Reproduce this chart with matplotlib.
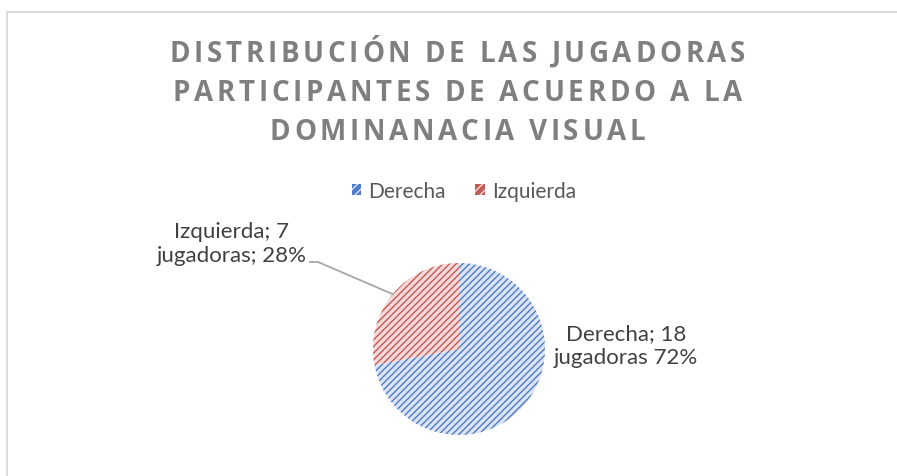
import matplotlib
matplotlib.use("Agg")
import matplotlib.pyplot as plt
from matplotlib.patches import Patch
from matplotlib.lines import Line2D
import numpy as np

# data
categorias = ["Derecha", "Izquierda"]
jugadoras = [18, 7]
porcentajes = [72, 28]
etiquetas = ["Derecha; 18\njugadoras 72%", "Izquierda; 7\njugadoras; 28%"]
titulo = ["DISTRIBUCIÓN DE LAS JUGADORAS",
          "PARTICIPANTES DE ACUERDO A LA",
          "DOMINANACIA VISUAL"]

caras = ["#dbe4f4", "#f5dada"]
lineas = ["#4f7bc8", "#c65a57"]

plt.rcParams["font.family"] = ["Lato", "DejaVu Sans"]
plt.rcParams["hatch.linewidth"] = 1.0

W, H = 897, 477
fig = plt.figure(figsize=(W / 100, H / 100), dpi=100)
ax = fig.add_axes([0, 0, 1, 1])

# pie in pixel coordinates (y up)
cx, cy, R = 459, H - 350, 86
wedges, _ = ax.pie(jugadoras, startangle=90, counterclock=False,
                   center=(cx, cy), radius=R, explode=[0, 0.06],
                   colors=caras, wedgeprops=dict(linewidth=0))
for w, c in zip(wedges, lineas):
    w.set_hatch("/////")
    w.set_edgecolor(c)
ax.set_xlim(0, W)
ax.set_ylim(0, H)
ax.set_aspect("auto")
ax.axis("off")

# chart border (top and left visible)
fig.add_artist(Line2D([7, 7, W], [0, H - 13, H - 13], transform=None,
                      color="#d9d9d9", lw=1.3))

# title with wide letter spacing, drawn char by char
renderer = fig.canvas.get_renderer()
track = 3.7
for k, linea in enumerate(titulo):
    y = H - (54 + 39.5 * k)
    objs = []
    for ch in linea:
        t = ax.text(0, y, ch, fontsize=20, fontweight="bold", color="#7f7f7f",
                    family=["Open Sans", "DejaVu Sans"], va="center", ha="left")
        objs.append(t)
    anchos = [t.get_window_extent(renderer).width if ch != " " else 7
              for t, ch in zip(objs, linea)]
    total = sum(anchos) + track * (len(linea) - 1)
    x = W / 2 + 9 - total / 2
    for t, a in zip(objs, anchos):
        t.set_x(x)
        x += a + track

# legend
handles = [Patch(facecolor=e, edgecolor=f, hatch="////", lw=0)
           for f, e in zip(caras, lineas)]
leg = fig.legend(handles, categorias, loc="center", bbox_to_anchor=(464 / W, 1 - 192 / H),
                 ncol=2, frameon=False, fontsize=15, handlelength=0.45, handleheight=0.45,
                 handletextpad=0.35, columnspacing=1.4)
for txt in leg.get_texts():
    txt.set_color("#595959")

# data labels
ax.text(626, H - 346, etiquetas[0], fontsize=16, color="#404040",
        ha="center", va="center", linespacing=1.22)
ax.text(232, H - 244, etiquetas[1], fontsize=16, color="#404040",
        ha="center", va="center", linespacing=1.22)

# leader line to the Izquierda slice
w = wedges[1]
mid = np.deg2rad((w.theta1 + w.theta2) / 2)
px = w.center[0] + w.r * np.cos(mid)
py = w.center[1] + w.r * np.sin(mid)
ax.plot([310, 318, px], [H - 263, H - 263, py], color="#a6a6a6", lw=1.3)

fig.savefig("out.png", dpi=100, facecolor="white")
